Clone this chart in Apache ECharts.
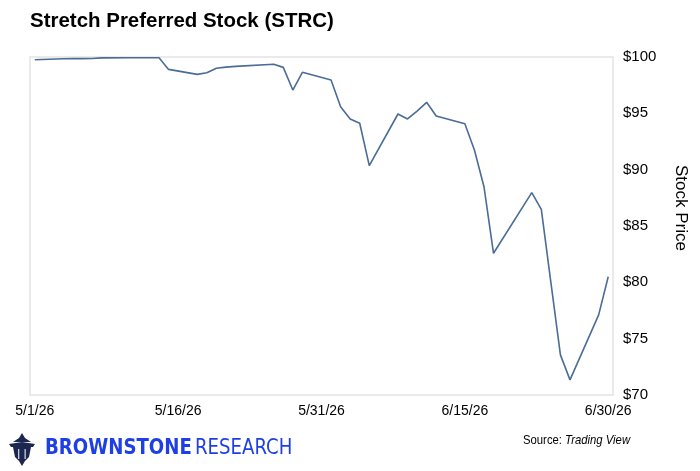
<!DOCTYPE html>
<html>
<head>
<meta charset="utf-8">
<script src="https://cdn.jsdelivr.net/npm/echarts@6/dist/echarts.min.js"></script>
<style>
  html, body { margin: 0; padding: 0; background: #fff; }
  #chart { width: 700px; height: 471px; }
</style>
</head>
<body>
<div id="chart"></div>
<script>
// trading days and closing prices
const tradeDates = [
  '5/1/26', '5/4/26', '5/5/26', '5/6/26', '5/7/26', '5/8/26',
  '5/11/26', '5/12/26', '5/13/26', '5/14/26', '5/15/26',
  '5/18/26', '5/19/26', '5/20/26', '5/21/26', '5/22/26',
  '5/26/26', '5/27/26', '5/28/26', '5/29/26',
  '6/1/26', '6/2/26', '6/3/26', '6/4/26', '6/5/26',
  '6/8/26', '6/9/26', '6/10/26', '6/11/26', '6/12/26',
  '6/15/26', '6/16/26', '6/17/26', '6/18/26',
  '6/22/26', '6/23/26', '6/24/26', '6/25/26', '6/26/26',
  '6/29/26', '6/30/26'
];
const prices = [
  99.76, 99.85, 99.86, 99.86, 99.87, 99.92,
  99.93, 99.93, 99.93, 99.93, 98.9,
  98.46, 98.6, 99.0, 99.1, 99.17,
  99.35, 99.08, 97.07, 98.64,
  97.96, 95.59, 94.5, 94.12, 90.36,
  94.94, 94.5, 95.2, 95.98, 94.76,
  94.08, 91.75, 88.49, 82.58,
  87.96, 86.48, 80.0, 73.56, 71.34,
  77.11, 80.5
];
const yTicks = [70, 75, 80, 85, 90, 95, 100];

// calendar axis 5/1/26 .. 6/30/26
const calendar = [];
for (let d = new Date(2026, 4, 1); d <= new Date(2026, 5, 30); d.setDate(d.getDate() + 1)) {
  calendar.push((d.getMonth() + 1) + '/' + d.getDate() + '/26');
}
const series = calendar.map(c => {
  const i = tradeDates.indexOf(c);
  return i >= 0 ? prices[i] : null;
});

const font = '"Liberation Sans", Arial, sans-serif';
const logoFont = '"DejaVu Sans Condensed", "DejaVu Sans", sans-serif';
const navy = '#1c2750';
const chart = echarts.init(document.getElementById('chart'), null, { renderer: 'canvas' });

chart.setOption({
  backgroundColor: '#ffffff',
  animation: false,
  grid: {
    left: 30, right: 87, top: 57, bottom: 76,
    show: true, borderColor: '#e3e3e3', borderWidth: 1.5, backgroundColor: '#fff'
  },
  xAxis: {
    type: 'category',
    data: calendar,
    boundaryGap: true,
    axisLine: { show: false },
    axisTick: { show: false },
    axisLabel: { interval: 14, margin: 9, color: '#000', fontFamily: font, fontSize: 14 },
    splitLine: { show: false }
  },
  yAxis: {
    type: 'value',
    position: 'right',
    min: yTicks[0], max: yTicks[yTicks.length - 1], interval: 5,
    axisLine: { show: false },
    axisTick: { show: false },
    splitLine: { show: false },
    axisLabel: { margin: 10, color: '#000', fontFamily: font, fontSize: 15, formatter: '${value}' }
  },
  series: [{
    type: 'line',
    data: series,
    connectNulls: true,
    symbol: 'none',
    lineStyle: { color: '#4a6c96', width: 1.6 }
  }],
  graphic: [
    {
      type: 'text', x: 30, y: 11, scaleX: 0.975,
      style: { text: 'Stretch Preferred Stock (STRC)', fontFamily: font, fontSize: 21, fontWeight: 'bold', fill: '#000', textVerticalAlign: 'top' }
    },
    {
      type: 'text', x: 681, y: 208, rotation: -Math.PI / 2,
      style: { text: 'Stock Price', fontFamily: font, fontSize: 17, fill: '#000', textAlign: 'center', textVerticalAlign: 'middle' }
    },
    // lantern logo
    { type: 'polygon', shape: { points: [[22, 433], [25, 438], [31, 442], [13, 442], [19, 438]] }, style: { fill: navy } },
    { type: 'polygon', shape: { points: [[9, 444], [22, 442], [35, 444], [33, 447], [11, 447]] }, style: { fill: navy } },
    { type: 'polygon', shape: { points: [[13, 447], [31, 447], [29, 457], [25, 461], [22, 466], [19, 461], [15, 457]] }, style: { fill: navy } },
    { type: 'rect', shape: { x: 18, y: 449, width: 1.3, height: 10 }, style: { fill: '#c9cfe0' } },
    { type: 'rect', shape: { x: 24.5, y: 449, width: 1.3, height: 10 }, style: { fill: '#c9cfe0' } },
    {
      type: 'text', x: 45, y: 438, scaleX: 0.96,
      style: {
        text: '{b|BROWNSTONE} {r|RESEARCH}',
        textVerticalAlign: 'top',
        rich: {
          b: { fontFamily: logoFont, fontWeight: 'bold', fontSize: 21, fill: '#1f3fe6' },
          r: { fontFamily: logoFont, fontSize: 21, fill: '#1f3fe6' }
        }
      }
    },
    {
      type: 'text', x: 523, y: 434, scaleX: 0.87,
      style: {
        text: '{a|Source: }{i|Trading View}',
        textVerticalAlign: 'top',
        rich: {
          a: { fontFamily: font, fontSize: 13, fill: '#000' },
          i: { fontFamily: font, fontSize: 13, fontStyle: 'italic', fill: '#000' }
        }
      }
    }
  ]
});
</script>
</body>
</html>
